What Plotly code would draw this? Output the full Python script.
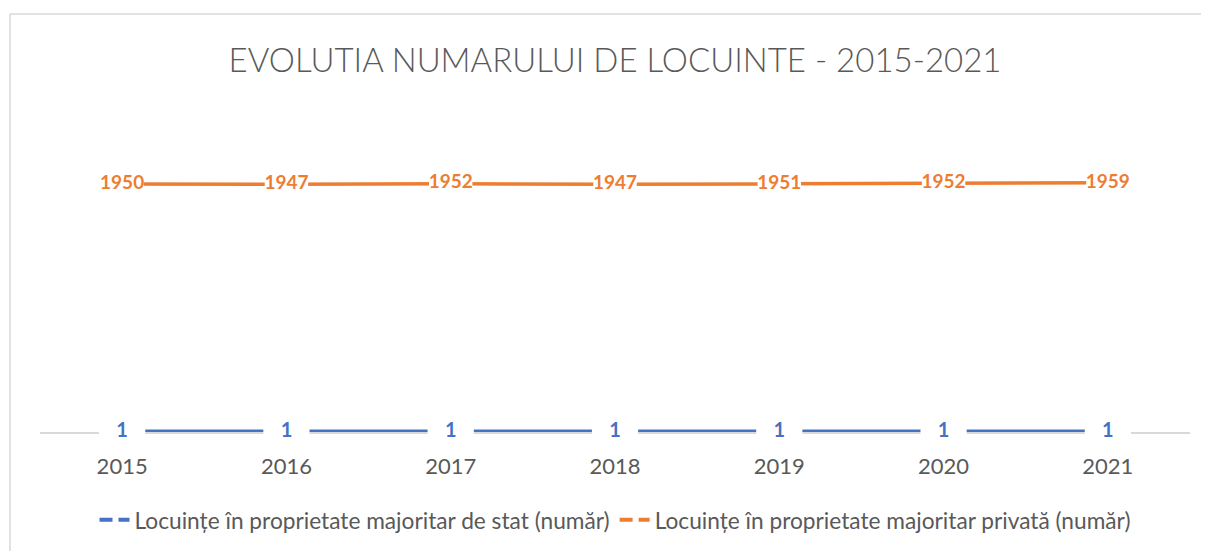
import plotly.graph_objects as go

years = ["2015", "2016", "2017", "2018", "2019", "2020", "2021"]
stat_values = [1, 1, 1, 1, 1, 1, 1]
privat_values = [1950, 1947, 1952, 1947, 1951, 1952, 1959]

name_stat = "Locuințe în proprietate majoritar de stat (număr)"
name_privat = "Locuințe în proprietate majoritar privată (număr)"
title_text = "EVOLUTIA NUMARULUI DE LOCUINTE - 2015-2021"

BLUE = "#4472C4"
ORANGE = "#ED7D31"
GRAY_TXT = "#595959"
FONT = "Lato, Carlito, 'Open Sans', sans-serif"

fig = go.Figure()

# data lines with white label boxes (line-ew markers) and bold value labels
fig.add_trace(go.Scatter(
    x=years, y=stat_values, mode="lines+markers+text",
    line=dict(color=BLUE, width=4.5),
    marker=dict(symbol="line-ew", size=33, color="white",
                line=dict(color="white", width=24)),
    text=[str(v) for v in stat_values], textposition="middle center",
    textfont=dict(family=FONT, size=20, color=BLUE, weight="bold"),
    cliponaxis=False, showlegend=False, hoverinfo="skip"))
fig.add_trace(go.Scatter(
    x=years, y=privat_values, mode="lines+markers+text",
    line=dict(color=ORANGE, width=3.5),
    marker=dict(symbol="line-ew", size=31, color="white",
                line=dict(color="white", width=24)),
    text=[str(v) for v in privat_values], textposition="middle center",
    textfont=dict(family=FONT, size=19, color=ORANGE, weight="bold"),
    cliponaxis=False, showlegend=False, hoverinfo="skip"))

# legend entries
fig.add_trace(go.Scatter(x=[None], y=[None], mode="lines", name=name_stat,
                         line=dict(color=BLUE, width=4, dash="13px,6px")))
fig.add_trace(go.Scatter(x=[None], y=[None], mode="lines", name=name_privat,
                         line=dict(color=ORANGE, width=4, dash="13px,6px")))

fig.update_layout(
    width=1209, height=551,
    margin=dict(l=32, r=27, t=106, b=127),
    paper_bgcolor="white", plot_bgcolor="white",
    font=dict(family=FONT, color=GRAY_TXT),
    title=dict(text=title_text, x=0.5, xref="paper", xanchor="center",
               y=1 - 52 / 551, yref="container", yanchor="middle",
               font=dict(family=FONT, size=33, color=GRAY_TXT, weight=300)),
    xaxis=dict(type="category", range=[-0.5, 6.5], showgrid=False,
               showline=True, linecolor="#D9D9D9", linewidth=1.5,
               ticks="", zeroline=False, layer="below traces",
               tickfont=dict(family=FONT, size=22, color=GRAY_TXT),
               ticklabelstandoff=14),
    yaxis=dict(range=[0, 2500], visible=False),
    legend=dict(orientation="h", x=0.5, xanchor="center", y=-0.277,
                yanchor="middle", font=dict(family=FONT, size=22.7, color=GRAY_TXT),
                itemwidth=30, traceorder="normal"),
    shapes=[dict(type="rect", xref="paper", yref="paper",
                 x0=-0.0261, x1=1.3, y0=-0.6, y1=1.3145,
                 line=dict(color="#D9D9D9", width=1.5), layer="below")],
)

fig.write_html("out.html")
